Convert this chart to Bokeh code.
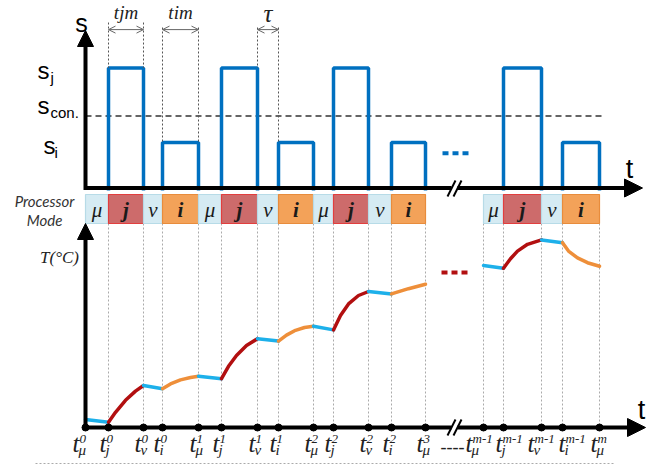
from bokeh.plotting import figure
from bokeh.models import Range1d, Arrow, NormalHead, OpenHead
from bokeh.core.properties import value
from bokeh.embed import file_html
from bokeh.resources import INLINE

# ---------------- data (time in arbitrary units) ----------------
t_mu   = [0.0, 11.3, 22.8, 39.8]      # start of idle (mu) phase, cycles 0,1,2,m-1
t_j    = [2.3, 13.6, 24.8, 41.8]      # start of task j
t_nu   = [5.8, 17.2, 28.3, 45.6]      # start of idle (nu) phase
t_i    = [7.7, 19.3, 30.6, 47.7]      # start of task i
t_next = [11.3, 22.8, 34.0, 51.4]     # end of cycle
cycle_sup = ["0", "1", "2", "m-1"]
next_sup  = ["1", "2", "3", "m"]

# speed levels (relative)
s_j, s_con, s_i = 1.0, 0.6, 0.38
s_subs = ["j", "con.", "i"]

# processor modes of a cycle
mode_keys  = ["mu", "j", "nu", "i"]
mode_names = ["μ", "j", "ν", "i"]

# temperature trace, one segment per mode (°C, illustrative)
seg_mode = ["mu", "j", "nu", "i"] * 4
seg_t = [
    [0.0, 2.3], [2.3, 3.0, 4.0, 5.0, 5.8], [5.8, 7.7], [7.7, 8.5, 9.5, 10.5, 11.3],
    [11.3, 13.6], [13.6, 14.3, 15.1, 16.1, 17.2], [17.2, 19.3], [19.3, 20.1, 21.0, 21.9, 22.8],
    [22.8, 24.8], [24.8, 25.5, 26.3, 27.3, 28.3], [28.3, 30.6], [30.6, 32.3, 34.0],
    [39.8, 41.8], [41.8, 42.5, 43.2, 44.2, 45.6], [45.6, 47.7], [47.7, 48.3, 49.2, 50.2, 51.4],
]
seg_T = [
    [42.0, 41.3], [41.3, 43.8, 46.8, 49.1, 50.5], [50.5, 49.7], [49.7, 50.9, 51.9, 52.5, 52.8],
    [52.8, 52.2], [52.2, 55.3, 58.0, 60.5, 62.2], [62.2, 61.6], [61.6, 63.1, 64.3, 65.0, 65.3],
    [65.3, 64.4], [64.4, 68.0, 70.9, 73.0, 74.0], [74.0, 73.4], [73.4, 74.7, 75.8],
    [80.5, 79.8], [79.8, 82.2, 84.1, 85.8, 86.9], [86.9, 86.2], [86.2, 84.1, 82.4, 81.2, 80.3],
]
T_base = 40.0

# ---------------- styles ----------------
BLUE = "#0070C0"
CURVE = {"mu": "#1DB0EA", "nu": "#1DB0EA", "j": "#B20F10", "i": "#EE8F3A"}
CELL_FILL = {"mu": "#D5EBF3", "nu": "#D5EBF3", "j": "#CD6B6B", "i": "#F3A259"}
CELL_LINE = {"mu": "#B7DBE7", "nu": "#B7DBE7", "j": "#E23E3E", "i": "#E88C3C"}
SERIF = value("Liberation Serif")
SANS = value("Liberation Sans")

p = figure(width=662, height=468, x_range=Range1d(-8.5, 57.7), y_range=Range1d(-2.3375, 1.5625),
           output_backend="svg", toolbar_location=None, x_axis_location=None, y_axis_location=None,
           min_border=0, outline_line_color=None)
p.extra_y_ranges = {"T": Range1d(29.75, 146.75), "px": Range1d(468, 0)}
p.extra_x_ranges = {"px": Range1d(0, 662)}
p.background_fill_color = "white"
p.border_fill_color = "white"
p.grid.grid_line_color = None
p.grid.visible = False

# derived
all_t, all_sub, all_sup, dx = [], [], [], []
last_dx = [-11, -1, -7, 3, -2]   # label nudges for the crowded last cycle
for k in range(4):
    all_t += [t_mu[k], t_j[k], t_nu[k], t_i[k]]
    all_sub += ["μ", "j", "ν", "i"]
    all_sup += [cycle_sup[k]] * 4
    if k in (2, 3):
        all_t.append(t_next[k])
        all_sub.append("μ")
        all_sup.append(next_sup[k])
for n in range(len(all_t)):
    if n == 0:
        dx.append(-6)
    elif n >= len(all_t) - 5:
        dx.append(last_dx[n - (len(all_t) - 5)])
    else:
        dx.append(-2)
brk = (t_next[2] + t_mu[3]) / 2

# ---------------- vertical dotted guides (lower panel) ----------------
p.segment(x0=all_t, x1=all_t, y0=[223] * len(all_t), y1=[427] * len(all_t), y_range_name="px",
          line_color="#AAAAAA", line_width=1, line_dash="2 2")

# ---------------- upper panel: speed pulses ----------------
p.line(x=[t_mu[0], t_next[3] + 0.4], y=[s_con, s_con], line_color="#333333", line_width=1.3, line_dash="6 4")
xs, ys = [], []
for k in range(4):
    xs.append([t_j[k], t_j[k], t_nu[k], t_nu[k]]); ys.append([-0.02, s_j, s_j, -0.02])
    xs.append([t_i[k], t_i[k], t_next[k], t_next[k]]); ys.append([-0.02, s_i, s_i, -0.02])
p.multi_line(xs=xs, ys=ys, line_color=BLUE, line_width=3.5)

# blue ellipsis
p.line(x=[t_next[2] + 1.7, t_mu[3] - 1.3], y=[0.29, 0.29], line_color=BLUE, line_width=4, line_dash="6 4")

# dimension annotations
dim_pairs = [(t_j[0], t_nu[0], s_j, s_j, 1.379, "tjm", "19px", 12),
             (t_i[0], t_next[0], s_i, s_i, 1.3375, "tim", "19px", 12),
             (t_nu[1], t_i[1], s_j, s_i, 1.3375, "τ", "25px", 13)]
for a, b, la, lb, top, lab, fs, ymid in dim_pairs:
    p.segment(x0=[a, b], x1=[a, b], y0=[top, top], y1=[la, lb], line_color="#555555",
              line_width=1, line_dash="2 2")
    p.add_layout(Arrow(start=OpenHead(size=7, line_color="#666666", line_width=1),
                       end=OpenHead(size=7, line_color="#666666", line_width=1),
                       x_start=a, x_end=b, y_start=1.32, y_end=1.32,
                       line_color="#666666", line_width=1))
    p.text(x=[(a + b) / 2], y=[ymid], y_range_name="px", text=[lab], text_font=SERIF,
           text_font_style="italic", text_font_size=fs, text_align="center",
           text_baseline="middle", text_color="#222222")

# upper axes
p.add_layout(Arrow(end=NormalHead(size=16, fill_color="black", line_color="black"),
                   x_start=t_mu[0], y_start=-0.017, x_end=t_mu[0], y_end=1.3125,
                   line_color="black", line_width=4))
p.line(x=[t_mu[0] - 0.15, brk - 0.3], y=[0, 0], line_color="black", line_width=4)
p.add_layout(Arrow(end=NormalHead(size=18, fill_color="black", line_color="black"),
                   x_start=brk + 0.3, y_start=0, x_end=55.7, y_end=0,
                   line_color="black", line_width=4))
p.segment(x0=[brk - 0.7, brk - 0.1], x1=[brk + 0.1, brk + 0.7], y0=[196, 196], y1=[180, 180],
          y_range_name="px", line_color="black", line_width=2)

p.text(x=[81], y=[22], text=["s"], x_range_name="px", y_range_name="px", text_font=SANS,
       text_font_size="25px", text_align="center", text_baseline="middle", text_color="black")
p.text(x=[629], y=[168], text=["t"], x_range_name="px", y_range_name="px", text_font=SANS,
       text_font_size="27px", text_align="center", text_baseline="middle", text_color="black")
p.text(x=[37, 37, 43], y=[70, 105, 145], text=["s"] * 3, x_range_name="px", y_range_name="px",
       text_font=SANS, text_font_size="24px", text_baseline="middle", text_color="black")
p.text(x=[50, 50, 54], y=[77, 112, 152], text=s_subs, x_range_name="px", y_range_name="px",
       text_font=SANS, text_font_size="15px", text_baseline="middle", text_color="black")

# ---------------- processor mode row ----------------
lefts, rights, fills, lines, labels, cx = [], [], [], [], [], []
for k in range(4):
    bounds = [t_mu[k], t_j[k], t_nu[k], t_i[k], t_next[k]]
    for m in range(4):
        lefts.append(bounds[m]); rights.append(bounds[m + 1])
        fills.append(CELL_FILL[mode_keys[m]]); lines.append(CELL_LINE[mode_keys[m]])
        labels.append(mode_names[m]); cx.append((bounds[m] + bounds[m + 1]) / 2)
p.quad(left=lefts, right=rights, top=[194] * len(lefts), bottom=[223] * len(lefts), y_range_name="px",
       fill_color=fills, line_color=lines, line_width=1.2)
greek = [i for i, l in enumerate(labels) if l in ("μ", "ν")]
latin = [i for i, l in enumerate(labels) if l in ("i", "j")]
p.text(x=[cx[i] for i in greek], y=[209] * len(greek), text=[labels[i] for i in greek],
       y_range_name="px", text_font=SERIF, text_font_style="italic", text_font_size="21px",
       text_align="center", text_baseline="middle", text_color="#1A1A1A")
p.text(x=[cx[i] for i in latin], y=[209] * len(latin), text=[labels[i] for i in latin],
       y_range_name="px", text_font=SERIF, text_font_style="bold italic", text_font_size="21px",
       text_align="center", text_baseline="middle", text_color="#1A1A1A")
p.text(x=[44, 44], y=[200, 219], text=["Processor", "Mode"], x_range_name="px", y_range_name="px",
       text_font=value("Lato"), text_font_style="italic", text_font_size="15px",
       text_align="center", text_baseline="middle", text_color="#333333")

# ---------------- lower panel: temperature ----------------
p.multi_line(xs=seg_t, ys=seg_T, y_range_name="T", line_color=[CURVE[m] for m in seg_mode],
             line_width=3.5, line_cap="round")
p.line(x=[t_next[2] + 1.6, t_mu[3] - 1.3], y=[78.75, 78.75], y_range_name="T",
       line_color=CURVE["j"], line_width=4, line_dash="6 4")

p.add_layout(Arrow(end=NormalHead(size=16, fill_color="black", line_color="black"),
                   x_start=t_mu[0], y_start=T_base - 0.5, x_end=t_mu[0], y_end=91.0,
                   y_range_name="T", line_color="black", line_width=4))
p.line(x=[t_mu[0] - 0.15, brk - 0.3], y=[T_base, T_base], y_range_name="T", line_color="black", line_width=4)
p.add_layout(Arrow(end=NormalHead(size=18, fill_color="black", line_color="black"),
                   x_start=brk + 0.3, y_start=T_base, x_end=56.0, y_end=T_base, y_range_name="T",
                   line_color="black", line_width=4))
p.segment(x0=[brk - 0.7, brk - 0.1], x1=[brk + 0.1, brk + 0.7], y0=[435, 435], y1=[419, 419],
          y_range_name="px", line_color="black", line_width=2)
p.scatter(x=all_t, y=[T_base] * len(all_t), y_range_name="T", size=7, color="black")

p.text(x=[59], y=[257], text=["T(°C)"], x_range_name="px", y_range_name="px", text_font=SERIF,
       text_font_style="italic", text_font_size="17px", text_align="center", text_baseline="middle",
       text_color="#222222")
p.text(x=[641], y=[409], text=["t"], x_range_name="px", y_range_name="px", text_font=SANS,
       text_font_size="27px", text_align="center", text_baseline="middle", text_color="black")

# tick labels t_sub^sup
p.text(x=all_t, y=[443] * len(all_t), text=["t"] * len(all_t), x_offset=dx, y_range_name="px",
       text_font=SERIF, text_font_style="italic", text_font_size="25px", text_align="right",
       text_baseline="middle", text_color="#222222")
p.text(x=all_t, y=[438] * len(all_t), text=all_sup, x_offset=dx, y_range_name="px",
       text_font=SERIF, text_font_style="italic", text_font_size="13px", text_align="left",
       text_baseline="middle", text_color="#222222")
p.text(x=all_t, y=[449] * len(all_t), text=all_sub, x_offset=[d - 1 for d in dx], y_range_name="px",
       text_font=SERIF, text_font_style="italic", text_font_size="15px", text_align="left",
       text_baseline="middle", text_color="#222222")
p.text(x=[brk - 0.2], y=[446], text=["----"], y_range_name="px", text_font=SERIF,
       text_font_size="18px", text_align="center", text_baseline="middle", text_color="#222222")
p.line(x=[-5.0, t_next[3] + 1.4], y=[463, 463], y_range_name="px", line_color="#AAAAAA",
       line_width=1, line_dash="2 2")

open("out.html", "w").write(file_html(p, INLINE))
